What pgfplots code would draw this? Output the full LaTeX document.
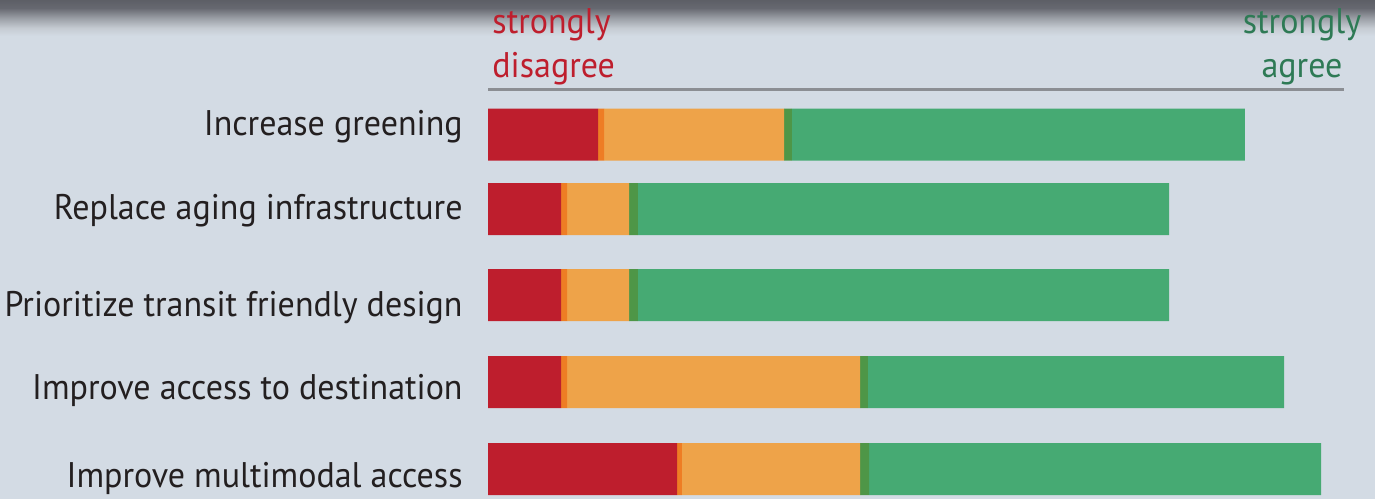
\documentclass[border=0pt]{standalone}
\usepackage{fontspec}
\setmainfont{PT Sans}[FakeStretch=0.955]
\usepackage{pgfplots}
\pgfplotsset{compat=1.18}
\definecolor{bgc}{HTML}{D3DBE4}
\definecolor{shadowc}{HTML}{5D5F66}
\definecolor{shadowa}{HTML}{666870}
\definecolor{shadowb}{HTML}{9A9EA5}
\definecolor{shadowd}{HTML}{C5CBD2}
\definecolor{sdred}{HTML}{BE1E2D}
\definecolor{dorange}{HTML}{EE7D24}
\definecolor{lorange}{HTML}{EEA349}
\definecolor{dgreen}{HTML}{4E9647}
\definecolor{sagreen}{HTML}{46AA73}
\definecolor{txtgreen}{HTML}{2E7A55}
\definecolor{labelc}{HTML}{231F20}
\definecolor{rulec}{HTML}{8B8E93}
% background with the dark shadow along the top edge
\pgfdeclareverticalshading{bgshade}{100bp}{color(0bp)=(bgc); color(71.39bp)=(bgc);
  color(72.19bp)=(shadowd); color(73.19bp)=(shadowb); color(74.2bp)=(shadowa);
  color(75bp)=(shadowc); color(100bp)=(shadowc)}

\begin{document}
\begin{tikzpicture}[lbl/.style={font=\fontsize{17.8}{21}\selectfont,inner sep=0pt}]
\begin{axis}[scale only axis,width=687.5pt,height=249pt,
  xmin=-57.01,xmax=103.62,ymin=0,ymax=498,y dir=reverse,
  axis lines=none,clip=true,
  axis background/.style={shading=bgshade},
  xbar stacked,bar width=52]
% 1 strongly disagree, 2, 3 neutral, 4, 5 strongly agree
\addplot[fill=sdred,draw=none] coordinates {(12.85,134.5)(8.53,209)(8.53,295)(8.53,382)(22.08,469)};
\addplot[fill=dorange,draw=none] coordinates {(0.70,134.5)(0.70,209)(0.70,295)(0.70,382)(0.58,469)};
\addplot[fill=lorange,draw=none] coordinates {(21.03,134.5)(7.24,209)(7.24,295)(34.23,382)(20.80,469)};
\addplot[fill=dgreen,draw=none] coordinates {(0.93,134.5)(1.05,209)(1.05,295)(0.93,382)(1.05,469)};
\addplot[fill=sagreen,draw=none] coordinates {(52.92,134.5)(62.04,209)(62.04,295)(48.60,382)(52.80,469)};
% header
\draw[rulec,line width=1.5pt] (axis cs:0,89) -- (axis cs:100,89);
\node[lbl,text=sdred,anchor=base west] at (axis cs:0.47,33) {strongly};
\node[lbl,text=sdred,anchor=base west] at (axis cs:0.47,77) {disagree};
\node[lbl,text=txtgreen,anchor=base] at (axis cs:95.09,33) {strongly};
\node[lbl,text=txtgreen,anchor=base] at (axis cs:95.09,77) {agree};
% category labels
\node[lbl,text=labelc,anchor=base east] at (axis cs:-2.92,135) {Increase greening};
\node[lbl,text=labelc,anchor=base east] at (axis cs:-2.92,219) {Replace aging infrastructure};
\node[lbl,text=labelc,anchor=base east] at (axis cs:-2.92,316) {Prioritize transit friendly design};
\node[lbl,text=labelc,anchor=base east] at (axis cs:-2.92,399) {Improve access to destination};
\node[lbl,text=labelc,anchor=base east] at (axis cs:-2.92,487) {Improve multimodal access};
\end{axis}
\pgfresetboundingbox
\path[use as bounding box] (current axis.south west) rectangle (current axis.north east);
\end{tikzpicture}
\end{document}
